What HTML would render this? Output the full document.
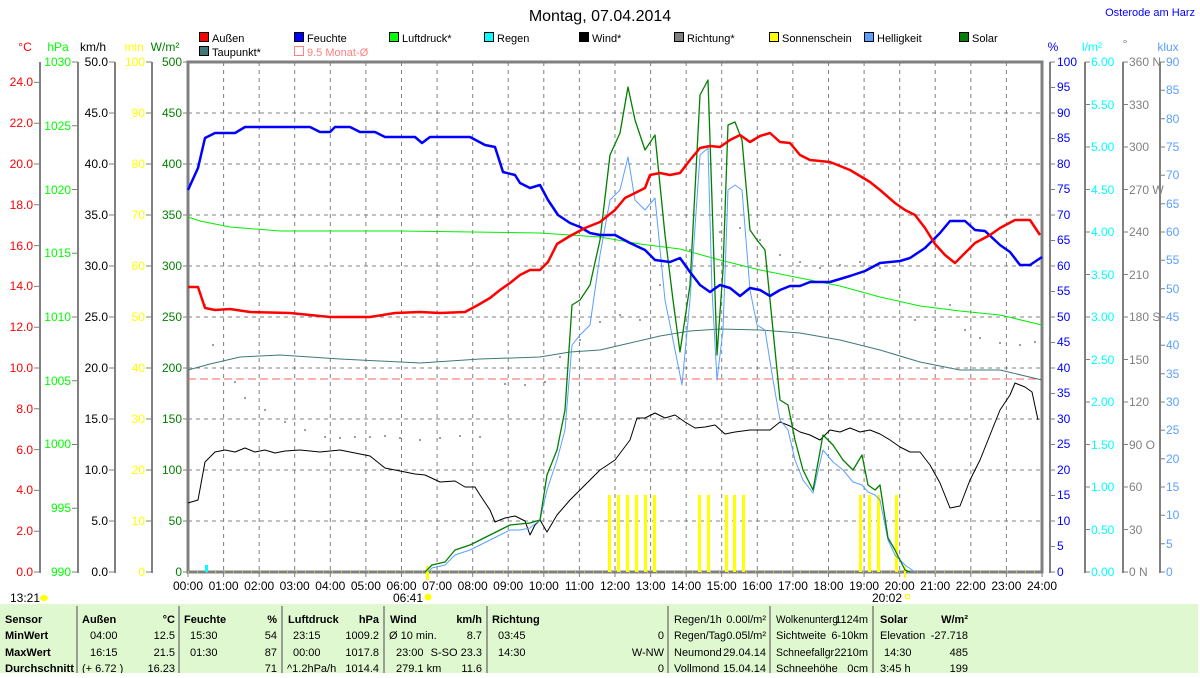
<!DOCTYPE html>
<html><head><meta charset="utf-8"><style>
body{margin:0;background:#fff;width:1200px;height:673px;overflow:hidden;font-family:"Liberation Sans",sans-serif}
svg text{font-family:"Liberation Sans",sans-serif;font-size:12px}
svg g.tb text{font-size:11px}
</style></head><body>
<svg width="1200" height="673" viewBox="0 0 1200 673" xmlns="http://www.w3.org/2000/svg">
<text x="600" y="21" text-anchor="middle" style="font-size:16px">Montag, 07.04.2014</text>
<text x="1195" y="16" text-anchor="end" fill="#0000ff" style="font-size:11px">Osterode am Harz</text>
<!-- legend -->
<g>
<rect x="199.5" y="32.5" width="9" height="9" fill="#ff0000" stroke="#000"/><text x="212" y="42" style="font-size:11px">Außen</text>
<rect x="294.5" y="32.5" width="9" height="9" fill="#0000ff" stroke="#000"/><text x="307" y="42" style="font-size:11px">Feuchte</text>
<rect x="389.5" y="32.5" width="9" height="9" fill="#00ff00" stroke="#000"/><text x="402" y="42" style="font-size:11px">Luftdruck*</text>
<rect x="484.5" y="32.5" width="9" height="9" fill="#00ffff" stroke="#000"/><text x="497" y="42" style="font-size:11px">Regen</text>
<rect x="579.5" y="32.5" width="9" height="9" fill="#000" stroke="#000"/><text x="592" y="42" style="font-size:11px">Wind*</text>
<rect x="674.5" y="32.5" width="9" height="9" fill="#808080" stroke="#000"/><text x="687" y="42" style="font-size:11px">Richtung*</text>
<rect x="769.5" y="32.5" width="9" height="9" fill="#ffff00" stroke="#000"/><text x="782" y="42" style="font-size:11px">Sonnenschein</text>
<rect x="864.5" y="32.5" width="9" height="9" fill="#5aa0ff" stroke="#000"/><text x="877" y="42" style="font-size:11px">Helligkeit</text>
<rect x="959.5" y="32.5" width="9" height="9" fill="#008000" stroke="#000"/><text x="972" y="42" style="font-size:11px">Solar</text>
<rect x="199.5" y="46.5" width="9" height="9" fill="#407878" stroke="#000"/><text x="212" y="56" style="font-size:11px">Taupunkt*</text>
<rect x="294.5" y="46.5" width="9" height="9" fill="none" stroke="#ff8080"/><text x="307" y="56" fill="#ff8080" style="font-size:11px">9.5 Monat-Ø</text>
</g>
<!-- axis units -->
<text x="25" y="51" fill="#ff0000" text-anchor="middle">°C</text>
<text x="58" y="51" fill="#00ff00" text-anchor="middle">hPa</text>
<text x="93" y="51" text-anchor="middle">km/h</text>
<text x="134" y="51" fill="#ffff00" text-anchor="middle">min</text>
<text x="165" y="51" fill="#008000" text-anchor="middle">W/m²</text>
<text x="1053" y="51" fill="#0000ff" text-anchor="middle">%</text>
<text x="1092" y="51" fill="#00ffff" text-anchor="middle">l/m²</text>
<text x="1125" y="48" fill="#808080" text-anchor="middle">°</text>
<text x="1168" y="51" fill="#5aa0ff" text-anchor="middle">klux</text>
<!-- axis lines -->
<g stroke="#808080" stroke-width="2" fill="none">
<line x1="40" y1="62" x2="40" y2="573"/><line x1="78" y1="62" x2="78" y2="573"/><line x1="115" y1="62" x2="115" y2="573"/><line x1="152" y1="62" x2="152" y2="573"/>
<line x1="1050" y1="62" x2="1050" y2="573"/><line x1="1085" y1="62" x2="1085" y2="573"/><line x1="1123" y1="62" x2="1123" y2="573"/><line x1="1160" y1="62" x2="1160" y2="573"/>
</g>
<g stroke="#808080" stroke-width="1">
<path d="M34 572H40M34 531.2H40M34 490.4H40M34 449.6H40M34 408.8H40M34 368H40M34 327.2H40M34 286.4H40M34 245.6H40M34 204.8H40M34 164H40M34 123.2H40M34 82.4H40"/>
<path d="M72 572H78M72 508.25H78M72 444.5H78M72 380.75H78M72 317H78M72 253.25H78M72 189.5H78M72 125.75H78M72 62H78"/>
<path d="M109 572H115M109 521H115M109 470H115M109 419H115M109 368H115M109 317H115M109 266H115M109 215H115M109 164H115M109 113H115M109 62H115"/>
<path d="M146 572H152M146 521H152M146 470H152M146 419H152M146 368H152M146 317H152M146 266H152M146 215H152M146 164H152M146 113H152M146 62H152"/>
<path d="M183 572H188M183 521H188M183 470H188M183 419H188M183 368H188M183 317H188M183 266H188M183 215H188M183 164H188M183 113H188M183 62H188"/>
<path d="M1050 572H1055M1050 546.5H1055M1050 521H1055M1050 495.5H1055M1050 470H1055M1050 444.5H1055M1050 419H1055M1050 393.5H1055M1050 368H1055M1050 342.5H1055M1050 317H1055M1050 291.5H1055M1050 266H1055M1050 240.5H1055M1050 215H1055M1050 189.5H1055M1050 164H1055M1050 138.5H1055M1050 113H1055M1050 87.5H1055M1050 62H1055"/>
<path d="M1085 572H1090M1085 529.5H1090M1085 487H1090M1085 444.5H1090M1085 402H1090M1085 359.5H1090M1085 317H1090M1085 274.5H1090M1085 232H1090M1085 189.5H1090M1085 147H1090M1085 104.5H1090M1085 62H1090"/>
<path d="M1123 572H1128M1123 529.5H1128M1123 487H1128M1123 444.5H1128M1123 402H1128M1123 359.5H1128M1123 317H1128M1123 274.5H1128M1123 232H1128M1123 189.5H1128M1123 147H1128M1123 104.5H1128M1123 62H1128"/>
<path d="M1160 572H1165M1160 543.7H1165M1160 515.3H1165M1160 487H1165M1160 458.7H1165M1160 430.3H1165M1160 402H1165M1160 373.7H1165M1160 345.3H1165M1160 317H1165M1160 288.7H1165M1160 260.3H1165M1160 232H1165M1160 203.7H1165M1160 175.3H1165M1160 147H1165M1160 118.7H1165M1160 90.3H1165M1160 62H1165"/>
</g>
<g fill="#ff0000" text-anchor="end">
<text x="33" y="576">0.0</text><text x="33" y="535">2.0</text><text x="33" y="494">4.0</text><text x="33" y="454">6.0</text><text x="33" y="413">8.0</text><text x="33" y="372">10.0</text><text x="33" y="331">12.0</text><text x="33" y="290">14.0</text><text x="33" y="250">16.0</text><text x="33" y="209">18.0</text><text x="33" y="168">20.0</text><text x="33" y="127">22.0</text><text x="33" y="86">24.0</text>
</g>
<g fill="#00ff00" text-anchor="end">
<text x="71" y="576">990</text><text x="71" y="512">995</text><text x="71" y="448">1000</text><text x="71" y="385">1005</text><text x="71" y="321">1010</text><text x="71" y="257">1015</text><text x="71" y="194">1020</text><text x="71" y="130">1025</text><text x="71" y="66">1030</text>
</g>
<g fill="#000" text-anchor="end">
<text x="108" y="576">0.0</text><text x="108" y="525">5.0</text><text x="108" y="474">10.0</text><text x="108" y="423">15.0</text><text x="108" y="372">20.0</text><text x="108" y="321">25.0</text><text x="108" y="270">30.0</text><text x="108" y="219">35.0</text><text x="108" y="168">40.0</text><text x="108" y="117">45.0</text><text x="108" y="66">50.0</text>
</g>
<g fill="#ffff00" text-anchor="end">
<text x="145" y="576">0</text><text x="145" y="525">10</text><text x="145" y="474">20</text><text x="145" y="423">30</text><text x="145" y="372">40</text><text x="145" y="321">50</text><text x="145" y="270">60</text><text x="145" y="219">70</text><text x="145" y="168">80</text><text x="145" y="117">90</text><text x="145" y="66">100</text>
</g>
<g fill="#008000" text-anchor="end">
<text x="182" y="576">0</text><text x="182" y="525">50</text><text x="182" y="474">100</text><text x="182" y="423">150</text><text x="182" y="372">200</text><text x="182" y="321">250</text><text x="182" y="270">300</text><text x="182" y="219">350</text><text x="182" y="168">400</text><text x="182" y="117">450</text><text x="182" y="66">500</text>
</g>
<g fill="#0000ff">
<text x="1057" y="576">0</text><text x="1057" y="550">5</text><text x="1057" y="525">10</text><text x="1057" y="499">15</text><text x="1057" y="474">20</text><text x="1057" y="448">25</text><text x="1057" y="423">30</text><text x="1057" y="397">35</text><text x="1057" y="372">40</text><text x="1057" y="346">45</text><text x="1057" y="321">50</text><text x="1057" y="295">55</text><text x="1057" y="270">60</text><text x="1057" y="244">65</text><text x="1057" y="219">70</text><text x="1057" y="193">75</text><text x="1057" y="168">80</text><text x="1057" y="142">85</text><text x="1057" y="117">90</text><text x="1057" y="91">95</text><text x="1057" y="66">100</text>
</g>
<g fill="#00ffff">
<text x="1091" y="576">0.00</text><text x="1091" y="534">0.50</text><text x="1091" y="491">1.00</text><text x="1091" y="449">1.50</text><text x="1091" y="406">2.00</text><text x="1091" y="364">2.50</text><text x="1091" y="321">3.00</text><text x="1091" y="279">3.50</text><text x="1091" y="236">4.00</text><text x="1091" y="194">4.50</text><text x="1091" y="151">5.00</text><text x="1091" y="109">5.50</text><text x="1091" y="66">6.00</text>
</g>
<g fill="#808080">
<text x="1129" y="576">0   N</text><text x="1129" y="534">30</text><text x="1129" y="491">60</text><text x="1129" y="449">90   O</text><text x="1129" y="406">120</text><text x="1129" y="364">150</text><text x="1129" y="321">180 S</text><text x="1129" y="279">210</text><text x="1129" y="236">240</text><text x="1129" y="194">270 W</text><text x="1129" y="151">300</text><text x="1129" y="109">330</text><text x="1129" y="66">360 N</text>
</g>
<g fill="#5aa0ff">
<text x="1166" y="576">0</text><text x="1166" y="548">5</text><text x="1166" y="519">10</text><text x="1166" y="491">15</text><text x="1166" y="463">20</text><text x="1166" y="434">25</text><text x="1166" y="406">30</text><text x="1166" y="378">35</text><text x="1166" y="349">40</text><text x="1166" y="321">45</text><text x="1166" y="293">50</text><text x="1166" y="264">55</text><text x="1166" y="236">60</text><text x="1166" y="208">65</text><text x="1166" y="179">70</text><text x="1166" y="151">75</text><text x="1166" y="123">80</text><text x="1166" y="94">85</text><text x="1166" y="66">90</text>
</g>
<g stroke="#808080" stroke-width="1" stroke-dasharray="4,4">
<path d="M223.6 62V572M259.2 62V572M294.7 62V572M330.3 62V572M365.9 62V572M401.5 62V572M437.1 62V572M472.7 62V572M508.2 62V572M543.8 62V572M579.4 62V572M615 62V572M650.6 62V572M686.2 62V572M721.7 62V572M757.3 62V572M792.9 62V572M828.5 62V572M864.1 62V572M899.7 62V572M935.2 62V572M970.8 62V572M1006.4 62V572"/>
<path d="M188 521H1042M188 470H1042M188 419H1042M188 368H1042M188 317H1042M188 266H1042M188 215H1042M188 164H1042M188 113H1042"/>
</g>
<g stroke="#808080" stroke-width="1"><path d="M188 572v5M223.6 572v5M259.2 572v5M294.7 572v5M330.3 572v5M365.9 572v5M401.5 572v5M437.1 572v5M472.7 572v5M508.2 572v5M543.8 572v5M579.4 572v5M615 572v5M650.6 572v5M686.2 572v5M721.7 572v5M757.3 572v5M792.9 572v5M828.5 572v5M864.1 572v5M899.7 572v5M935.2 572v5M970.8 572v5M1006.4 572v5M1042 572v5"/></g>
<rect x="188" y="62" width="854" height="510" fill="none" stroke="#808080" stroke-width="3"/>
<line x1="188" y1="379" x2="1042" y2="379" stroke="#ff6060" stroke-dasharray="8,4"/>
<g fill="#ffff00"><rect x="608" y="495" width="3" height="77"/><rect x="617" y="495" width="3" height="77"/><rect x="626" y="495" width="3" height="77"/><rect x="635" y="495" width="3" height="77"/><rect x="644" y="495" width="3" height="77"/><rect x="653" y="495" width="3" height="77"/><rect x="698" y="495" width="3" height="77"/><rect x="707" y="495" width="3" height="77"/><rect x="725" y="495" width="3" height="77"/><rect x="733" y="495" width="3" height="77"/><rect x="742" y="495" width="3" height="77"/><rect x="859" y="495" width="3" height="77"/><rect x="868" y="495" width="3" height="77"/><rect x="877" y="495" width="3" height="77"/><rect x="895" y="495" width="3" height="77"/></g>
<line x1="188" y1="572" x2="1042" y2="572" stroke="#ffff00" stroke-dasharray="1,8"/>
<rect x="426" y="566" width="3" height="14" fill="#ffff00"/><rect x="904" y="566" width="2" height="12" fill="#ffff00"/>
<rect x="205" y="565" width="3" height="7" fill="#00ffff"/>
<g fill="#808080">
<circle cx="205" cy="305" r="1"/><circle cx="213" cy="345" r="1"/><circle cx="235" cy="382" r="1"/><circle cx="245" cy="398" r="1"/><circle cx="265" cy="410" r="1"/><circle cx="285" cy="422" r="1"/><circle cx="305" cy="430" r="1"/><circle cx="325" cy="437" r="1"/><circle cx="340" cy="438" r="1"/><circle cx="355" cy="437" r="1"/><circle cx="370" cy="437" r="1"/><circle cx="385" cy="436" r="1"/><circle cx="400" cy="438" r="1"/><circle cx="420" cy="440" r="1"/><circle cx="440" cy="438" r="1"/><circle cx="460" cy="436" r="1"/><circle cx="480" cy="437" r="1"/><circle cx="505" cy="384" r="1"/><circle cx="525" cy="385" r="1"/><circle cx="545" cy="382" r="1"/><circle cx="560" cy="357" r="1"/><circle cx="580" cy="340" r="1"/><circle cx="600" cy="322" r="1"/><circle cx="620" cy="315" r="1"/><circle cx="640" cy="320" r="1"/><circle cx="660" cy="285" r="1"/><circle cx="690" cy="250" r="1"/><circle cx="720" cy="232" r="1"/><circle cx="740" cy="228" r="1"/><circle cx="760" cy="240" r="1"/><circle cx="780" cy="255" r="1"/><circle cx="800" cy="262" r="1"/><circle cx="820" cy="268" r="1"/><circle cx="840" cy="265" r="1"/><circle cx="860" cy="262" r="1"/><circle cx="880" cy="268" r="1"/><circle cx="900" cy="290" r="1"/><circle cx="915" cy="320" r="1"/><circle cx="935" cy="330" r="1"/><circle cx="950" cy="305" r="1"/><circle cx="965" cy="330" r="1"/><circle cx="980" cy="338" r="1"/><circle cx="1000" cy="343" r="1"/><circle cx="1020" cy="345" r="1"/><circle cx="1035" cy="342" r="1"/>
</g>
<g fill="none" stroke-linejoin="round">
<polyline stroke="#00ee00" stroke-width="1" points="188,217 200,221 230,227 280,231 400,231 540,233 600,237 640,244 680,249 720,260 760,270 800,278 840,286 880,297 920,306 960,311 1000,315 1042,325"/>
<polyline stroke="#407878" stroke-width="1" points="188,370 210,364 240,357 280,355 340,359 420,363 480,359 540,357 570,352 600,350 630,343 660,336 690,331 720,329 760,330 800,333 840,340 880,350 920,362 960,370 1000,370 1042,380"/>
<polyline stroke="#000" stroke-width="1" points="188,503 198,500 205,462 215,452 225,450 235,452 245,448 255,452 265,450 275,453 285,451 300,450 320,452 340,450 370,456 385,468 400,471 415,474 425,475 440,482 455,481 465,487 475,487 480,495 490,510 495,522 505,518 515,516 525,521 530,535 535,525 540,520 547,532 557,515 570,500 585,485 600,470 615,460 630,440 637,418 645,418 655,413 665,418 675,415 685,422 695,428 705,427 715,425 725,434 735,432 750,430 770,430 780,422 790,426 800,432 810,435 820,440 830,430 840,432 850,428 860,432 870,430 880,434 890,440 900,447 910,452 920,452 930,465 940,483 950,508 960,506 970,480 980,460 990,435 1000,410 1010,395 1015,383 1025,387 1032,392 1038,420"/>
<polyline stroke="#5aa0ff" stroke-width="1" points="428,572 432,568 445,565 455,555 470,550 480,545 490,540 500,535 510,530 520,530 530,528 540,520 547,490 557,460 565,430 572,345 580,335 590,325 600,255 610,200 620,190 628,157 635,200 645,210 655,198 665,300 673,340 682,385 690,300 700,155 708,148 712,290 717,380 723,330 728,190 735,185 742,190 750,290 757,325 765,330 773,380 780,420 788,430 795,460 803,480 813,493 823,450 833,462 843,470 853,482 862,485 868,492 875,495 880,500 888,540 895,555 905,565 915,572"/>
<polyline stroke="#008000" stroke-width="1.3" points="425,572 432,565 445,562 455,550 470,545 480,540 490,535 500,530 510,525 520,524 530,523 540,520 547,475 557,450 565,410 572,305 580,300 590,285 600,240 610,155 620,133 628,87 635,120 645,150 655,135 665,235 673,300 680,352 690,285 700,95 708,80 712,200 717,355 723,270 728,125 735,122 742,140 750,230 757,240 765,250 773,330 780,400 788,405 795,440 803,470 813,490 823,435 833,445 843,460 853,470 862,455 868,485 875,490 880,485 888,538 895,550 905,570 910,572"/>
<polyline stroke="#0000ff" stroke-width="2.5" points="188,190 198,168 205,138 215,133 235,133 245,127 310,127 320,132 330,132 335,127 350,127 360,132 375,132 385,137 415,137 422,143 430,137 470,137 485,145 495,147 503,172 515,175 520,183 530,188 540,185 548,200 558,215 570,223 580,227 590,233 600,235 615,235 630,243 645,250 655,260 670,262 680,258 690,272 700,285 710,292 720,285 730,288 740,296 750,288 760,290 770,296 780,290 790,286 800,286 810,282 830,282 850,276 865,271 880,263 900,261 910,258 925,248 940,233 950,221 965,221 975,230 985,231 1000,245 1010,252 1020,265 1030,265 1042,257"/>
<polyline stroke="#ff0000" stroke-width="2.5" points="188,287 198,287 205,308 215,310 230,309 250,312 290,313 330,317 370,317 395,313 420,312 440,313 465,312 478,305 490,298 500,290 510,283 520,275 530,270 540,270 548,262 557,244 570,236 585,228 600,222 615,210 625,198 635,193 645,188 650,175 660,173 670,175 680,173 690,160 700,148 710,146 720,147 730,140 740,135 750,142 760,136 770,133 780,142 790,143 800,155 810,160 830,162 850,170 870,182 880,190 895,203 905,210 915,215 925,228 935,244 945,255 955,263 965,253 975,243 990,235 1000,228 1015,220 1030,220 1040,235"/>
</g>
<g text-anchor="middle">
<text x="188" y="590">00:00</text><text x="223.6" y="590">01:00</text><text x="259.2" y="590">02:00</text><text x="294.7" y="590">03:00</text><text x="330.3" y="590">04:00</text><text x="365.9" y="590">05:00</text><text x="401.5" y="590">06:00</text><text x="437.1" y="590">07:00</text><text x="472.7" y="590">08:00</text><text x="508.2" y="590">09:00</text><text x="543.8" y="590">10:00</text><text x="579.4" y="590">11:00</text><text x="615" y="590">12:00</text><text x="650.6" y="590">13:00</text><text x="686.2" y="590">14:00</text><text x="721.7" y="590">15:00</text><text x="757.3" y="590">16:00</text><text x="792.9" y="590">17:00</text><text x="828.5" y="590">18:00</text><text x="864.1" y="590">19:00</text><text x="899.7" y="590">20:00</text><text x="935.2" y="590">21:00</text><text x="970.8" y="590">22:00</text><text x="1006.4" y="590">23:00</text><text x="1042" y="590">24:00</text>
</g>
<text x="10" y="602">13:21</text><ellipse cx="44" cy="598" rx="4" ry="3" fill="#ffff00"/>
<text x="393" y="602">06:41</text><circle cx="428" cy="597" r="3.5" fill="#ffff00"/>
<text x="872" y="602">20:02</text><rect x="905.5" y="594.5" width="4" height="4" fill="none" stroke="#ffff00"/>
<rect x="0" y="604" width="1198" height="69" fill="#e0f8d0"/>
<g stroke="#808080" stroke-width="1.5"><path d="M77 606V673M179 606V673M282 606V673M384 606V673M487 606V673M668 606V673M770 606V673M873 606V673"/></g>
<g class="tb">
<g font-weight="bold">
<text x="5" y="623">Sensor</text><text x="5" y="639">MinWert</text><text x="5" y="656">MaxWert</text><text x="5" y="672" textLength="69" lengthAdjust="spacingAndGlyphs">Durchschnitt</text>
<text x="82" y="623">Außen</text><text x="175" y="623" text-anchor="end">°C</text>
<text x="184" y="623">Feuchte</text><text x="277" y="623" text-anchor="end">%</text>
<text x="288" y="623">Luftdruck</text><text x="379" y="623" text-anchor="end">hPa</text>
<text x="390" y="623">Wind</text><text x="482" y="623" text-anchor="end">km/h</text>
<text x="492" y="623">Richtung</text>
<text x="880" y="623">Solar</text><text x="968" y="623" text-anchor="end">W/m²</text>
</g>
<text x="90" y="639">04:00</text><text x="175" y="639" text-anchor="end">12.5</text>
<text x="90" y="656">16:15</text><text x="175" y="656" text-anchor="end">21.5</text>
<text x="82" y="672">(+ 6.72 )</text><text x="175" y="672" text-anchor="end">16.23</text>
<text x="190" y="639">15:30</text><text x="277" y="639" text-anchor="end">54</text>
<text x="190" y="656">01:30</text><text x="277" y="656" text-anchor="end">87</text>
<text x="277" y="672" text-anchor="end">71</text>
<text x="293" y="639">23:15</text><text x="379" y="639" text-anchor="end">1009.2</text>
<text x="293" y="656">00:00</text><text x="379" y="656" text-anchor="end">1017.8</text>
<text x="287" y="672">^1.2hPa/h</text><text x="379" y="672" text-anchor="end">1014.4</text>
<text x="389" y="639">Ø 10 min.</text><text x="482" y="639" text-anchor="end">8.7</text>
<text x="396" y="656">23:00</text><text x="482" y="656" text-anchor="end">S-SO 23.3</text>
<text x="396" y="672">279.1 km</text><text x="482" y="672" text-anchor="end">11.6</text>
<text x="498" y="639">03:45</text><text x="664" y="639" text-anchor="end">0</text>
<text x="498" y="656">14:30</text><text x="664" y="656" text-anchor="end">W-NW</text>
<text x="664" y="672" text-anchor="end">0</text>
<text x="674" y="623">Regen/1h</text><text x="766" y="623" text-anchor="end">0.00l/m²</text>
<text x="674" y="639" textLength="52" lengthAdjust="spacingAndGlyphs">Regen/Tag</text><text x="766" y="639" text-anchor="end">0.05l/m²</text>
<text x="674" y="656">Neumond</text><text x="766" y="656" text-anchor="end">29.04.14</text>
<text x="674" y="672">Vollmond</text><text x="766" y="672" text-anchor="end">15.04.14</text>
<text x="776" y="623" textLength="62" lengthAdjust="spacingAndGlyphs">Wolkenunterg</text><text x="868" y="623" text-anchor="end">1124m</text>
<text x="776" y="639">Sichtweite</text><text x="868" y="639" text-anchor="end">6-10km</text>
<text x="776" y="656" textLength="58" lengthAdjust="spacingAndGlyphs">Schneefallgr</text><text x="868" y="656" text-anchor="end">2210m</text>
<text x="776" y="672">Schneehöhe</text><text x="868" y="672" text-anchor="end">0cm</text>
<text x="880" y="639">Elevation</text><text x="968" y="639" text-anchor="end">-27.718</text>
<text x="884" y="656">14:30</text><text x="968" y="656" text-anchor="end">485</text>
<text x="880" y="672">3:45 h</text><text x="968" y="672" text-anchor="end">199</text>
</g>
</svg>
</body></html>
